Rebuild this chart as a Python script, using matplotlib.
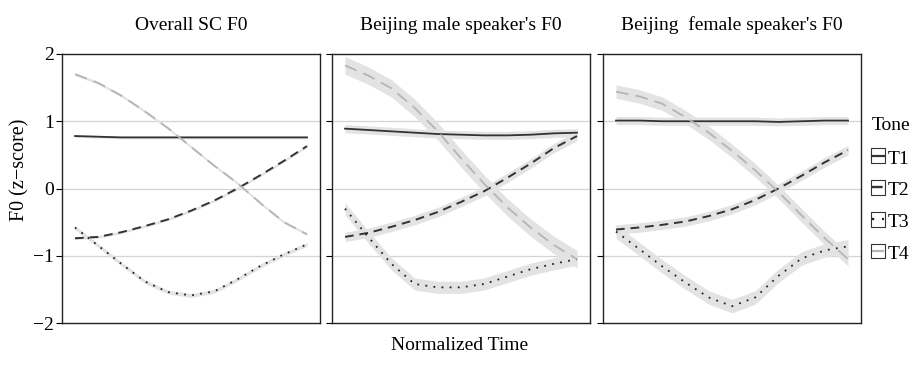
import matplotlib
matplotlib.use("Agg")
import matplotlib.pyplot as plt
from matplotlib.lines import Line2D
from matplotlib.patches import Rectangle
import numpy as np

plt.rcParams['font.family'] = ['Liberation Serif', 'DejaVu Serif']

# normalized time points
time = [0.0, 0.1, 0.2, 0.3, 0.4, 0.5, 0.6, 0.7, 0.8, 0.9, 1.0]

panel_titles = ["Overall SC F0", "Beijing male speaker's F0", "Beijing  female speaker's F0"]
tones = ["T1", "T2", "T3", "T4"]

# Overall SC
sc_t1 = [0.78, 0.77, 0.76, 0.76, 0.76, 0.76, 0.76, 0.76, 0.76, 0.76, 0.76]
sc_t2 = [-0.74, -0.72, -0.65, -0.56, -0.46, -0.33, -0.18, 0.00, 0.20, 0.41, 0.63]
sc_t3 = [-0.58, -0.85, -1.12, -1.38, -1.54, -1.59, -1.53, -1.35, -1.15, -0.98, -0.83]
sc_t4 = [1.70, 1.57, 1.38, 1.15, 0.90, 0.62, 0.34, 0.08, -0.22, -0.50, -0.68]
sc_ci = [0.02, 0.02, 0.03, 0.02]

# Beijing male
bm_t1 = [0.89, 0.87, 0.85, 0.83, 0.81, 0.80, 0.79, 0.79, 0.80, 0.82, 0.83]
bm_t2 = [-0.72, -0.66, -0.57, -0.47, -0.35, -0.20, -0.04, 0.16, 0.37, 0.60, 0.78]
bm_t3 = [-0.30, -0.72, -1.12, -1.42, -1.47, -1.47, -1.42, -1.31, -1.20, -1.12, -1.05]
bm_t4 = [1.83, 1.68, 1.49, 1.20, 0.85, 0.45, 0.07, -0.28, -0.58, -0.84, -1.05]
bm_ci = [0.06, 0.07, 0.09, 0.13]

# Beijing female
bf_t1 = [1.01, 1.01, 1.00, 1.00, 1.00, 1.00, 1.00, 0.99, 1.00, 1.01, 1.01]
bf_t2 = [-0.61, -0.58, -0.54, -0.49, -0.41, -0.31, -0.17, 0.00, 0.19, 0.39, 0.57]
bf_t3 = [-0.64, -0.90, -1.16, -1.40, -1.62, -1.75, -1.62, -1.30, -1.04, -0.92, -0.86]
bf_t4 = [1.44, 1.37, 1.26, 1.06, 0.83, 0.56, 0.27, -0.05, -0.40, -0.74, -1.05]
bf_ci = [0.06, 0.07, 0.10, 0.10]

panels = [
    ([sc_t1, sc_t2, sc_t3, sc_t4], sc_ci),
    ([bm_t1, bm_t2, bm_t3, bm_t4], bm_ci),
    ([bf_t1, bf_t2, bf_t3, bf_t4], bf_ci),
]

line_colors = ['#333333', '#333333', '#222222', '#b5b5b5']
line_styles = ['-', (0, (4.5, 3)), (0, (1, 3.5)), (0, (7, 4))]
line_widths = [1.3, 1.4, 1.3, 1.3]
ribbon_color = '#e3e3e3'


class BoxLineHandler:
    """legend key: small framed box with the line style across the middle"""

    def __init__(self, idx):
        self.idx = idx

    def legend_artist(self, legend, orig_handle, fontsize, handlebox):
        x0, y0 = handlebox.xdescent, handlebox.ydescent
        w, h = handlebox.width, handlebox.height
        box = Rectangle((x0, y0), w, h, facecolor='white',
                        edgecolor='#333333', linewidth=0.8,
                        transform=handlebox.get_transform())
        i = self.idx
        ln = Line2D([x0 + 0.5, x0 + w - 0.5], [y0 + h / 2, y0 + h / 2],
                    color=line_colors[i], linestyle=line_styles[i],
                    linewidth=line_widths[i] + 0.3,
                    transform=handlebox.get_transform())
        handlebox.add_artist(box)
        handlebox.add_artist(ln)
        return box


fig = plt.figure(figsize=(9.19, 3.67), dpi=100)
lefts = [62 / 919, 332 / 919, 603 / 919]
width = 258 / 919
bottom = 1 - 323 / 367
height = (323 - 54) / 367

for k, (series, ci) in enumerate(panels):
    ax = fig.add_axes([lefts[k], bottom, width, height])
    t = np.array(time)
    for i, ys in enumerate(series):
        ys = np.array(ys)
        ax.fill_between(t, ys - ci[i], ys + ci[i], color=ribbon_color,
                        linewidth=0, zorder=2)
    for i, ys in enumerate(series):
        ax.plot(t, ys, color=line_colors[i], linestyle=line_styles[i],
                linewidth=line_widths[i], zorder=3)
    for yv in [-1, 0, 1]:
        ax.axhline(yv, color='#d4d4d4', linewidth=0.9, zorder=1)
    ax.set_xlim(-0.056, 1.056)
    ax.set_ylim(-2, 2)
    ax.set_xticks([])
    ax.set_yticks([-2, -1, 0, 1, 2])
    ax.tick_params(axis='y', length=4, width=0.8, direction='out',
                   labelsize=14, pad=2)
    if k > 0:
        ax.set_yticklabels([])
    for sp in ax.spines.values():
        sp.set_linewidth(1.0)
        sp.set_color('#222222')
    ax.set_title(panel_titles[k], fontsize=14, pad=17)
    if k == 0:
        ax.set_ylabel("F0 (z\u2212score)", fontsize=14.5)
        ax.yaxis.set_label_coords(-0.125, 0.569)
    if k == 2:
        keys = [Line2D([], []) for _ in tones]
        leg = ax.legend(keys, tones, title="Tone", loc='upper left',
                        bbox_to_anchor=(1.04, 0.765), frameon=False,
                        fontsize=14, title_fontsize=14,
                        handler_map={keys[i]: BoxLineHandler(i) for i in range(4)},
                        handlelength=0.7, handleheight=0.8, handletextpad=0.15,
                        labelspacing=0.7, borderaxespad=0, borderpad=0)
        leg._legend_box.align = 'left'
        leg._legend_box.sep = 11

fig.text(0.5, 1 - 345 / 367, "Normalized Time", ha='center', va='center',
         fontsize=14)

fig.savefig("out.png", dpi=100, facecolor='white')
